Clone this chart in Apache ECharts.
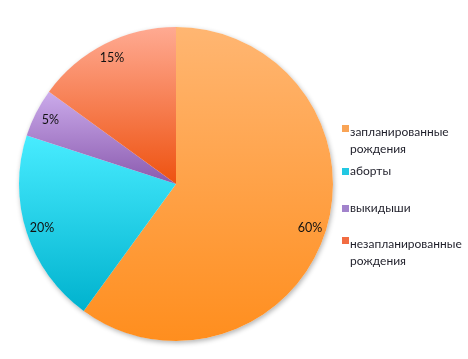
<!DOCTYPE html>
<html><head><meta charset="utf-8">
<script src="https://cdn.jsdelivr.net/npm/echarts@6/dist/echarts.min.js"></script>
<style>html,body{margin:0;padding:0;background:#fff}#c{width:468px;height:359px}</style>
</head><body><div id="c"></div>
<script>
var categories = ['запланированные\nрождения', 'аборты', 'выкидыши', 'незапланированные\nрождения'];
var values = [60, 20, 5, 15];
var labels = ['60%', '20%', '5%', '15%'];
var topColors = ['#FFB672', '#48ECFF', '#CBABEB', '#FFAA92'];
var bottomColors = ['#FF8E1E', '#00B2CE', '#8A5AAE', '#EE5210'];
var legendColors = ['#F9A456', '#22C8E2', '#A283CC', '#F26C42'];

function grad(i) {
  return new echarts.graphic.LinearGradient(0, 0, 0, 1, [
    {offset: 0, color: topColors[i]}, {offset: 1, color: bottomColors[i]}]);
}
var chart = echarts.init(document.getElementById('c'));
var center = [176, 184];
var R = 157;
var data = categories.map(function (c, i) {
  return {name: c, value: values[i], itemStyle: {color: grad(i)}};
});
var labelData = categories.map(function (c, i) {
  return {name: c, value: values[i], label: {formatter: labels[i]}};
});
var legendTops = [119, 158, 195, 231];
var legends = categories.map(function (c, i) {
  var two = c.indexOf('\n') >= 0;
  return {
    left: 337, top: legendTops[i], orient: 'vertical', padding: 5,
    data: [{name: c, itemStyle: {color: legendColors[i]}}],
    itemWidth: 7, itemHeight: two ? 32 : 7,
    icon: two ? 'path://M0,0h7v7h-7z M0,31.9h0.01v0.01h-0.01z' : 'rect',
    itemGap: 0, selectedMode: false,
    textStyle: {fontFamily: 'Lato', fontSize: 12, color: '#1f1f2a', lineHeight: 17, padding: [0, 0, 0, -4]}
  };
});
chart.setOption({
  animation: false,
  legend: legends,
  series: [
    {type: 'pie', silent: true, center: center, radius: [0, R], z: 1,
     data: [{value: 1, name: '_bg', itemStyle: {color: '#fff', shadowBlur: 5, shadowColor: 'rgba(0,0,0,0.3)', shadowOffsetX: 1, shadowOffsetY: 2}}],
     label: {show: false}, labelLine: {show: false}, legendHoverLink: false},
    {type: 'pie', center: center, radius: [0, R], startAngle: 90, clockwise: true, z: 2,
     data: data, label: {show: false}, labelLine: {show: false},
     itemStyle: {borderWidth: 0}},
    {type: 'pie', silent: true, center: center, radius: [118, 158], startAngle: 90, clockwise: true, z: 3,
     data: labelData, itemStyle: {color: 'rgba(0,0,0,0)'},
     label: {show: true, position: 'inside', fontFamily: 'Lato', fontSize: 12.5, color: '#111'},
     labelLine: {show: false}}
  ]
});
</script></body></html>
